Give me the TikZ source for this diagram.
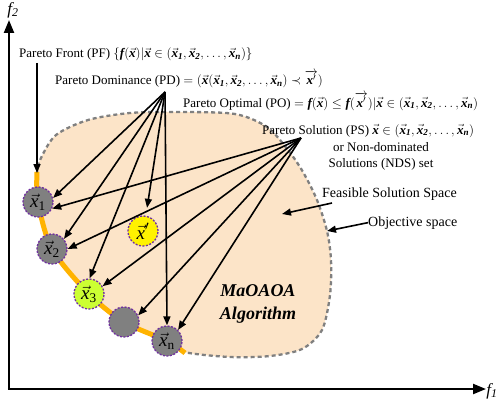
\RequirePackage{fix-cm}
\documentclass[tikz,border=0pt]{standalone}
\usepackage{amsmath}
\usepackage{fontspec}
\setmainfont{Liberation Serif}
\usetikzlibrary{arrows.meta}
\newcommand{\bix}{\text{\bfseries\itshape x}}
\newcommand{\bif}{\text{\bfseries\itshape f}}
\newcommand{\bvx}{\vec{\bix}}
\newcommand{\bvxs}[1]{\vec{\bix}_{\text{\bfseries\itshape #1}}}
\newcommand{\nx}[1]{\vec{\text{\itshape x}}_{\text{#1}}}
\definecolor{peach}{HTML}{FCE4C8}
\definecolor{bordergray}{HTML}{808080}
\definecolor{frontorange}{HTML}{FFB300}
\definecolor{ndgray}{HTML}{808080}
\definecolor{ndpurple}{HTML}{7030A0}
\definecolor{limey}{HTML}{CCFF33}
\begin{document}
\begin{tikzpicture}[x=1pt,y=-1pt,
  txt/.style={inner sep=0pt, font=\fontsize{13}{15}\selectfont},
  arr/.style={-{Triangle[length=9pt,width=7pt]}, line width=1.6pt},
  axis/.style={-{Triangle[length=13pt,width=10pt]}, line width=2.2pt},
  sol/.style={circle, minimum size=30pt, inner sep=0pt, fill=ndgray, draw=ndpurple,
     line width=1.3pt, dash pattern=on 2pt off 1.5pt, font=\fontsize{19}{19}\selectfont},
  blob/.style={fill=peach, draw=bordergray, line width=2.3pt, dash pattern=on 4pt off 3pt},
  front/.style={draw=frontorange, line width=5pt},
  algo/.style={inner sep=0pt, font=\fontsize{18}{22}\selectfont\bfseries\itshape}]
\useasboundingbox (0,0) rectangle (500,401);

% axes
\coordinate (O) at (9,389);
\coordinate (ytip) at (9,20);
\coordinate (xtip) at (486,389);
\draw[axis] (O) -- (ytip);
\draw[axis] ([xshift=-1.1pt]O) -- (xtip);
\node[inner sep=0pt, font=\fontsize{17}{17}\selectfont] (f2) at (13,10) {\itshape f\textsubscript{2}};
\node[inner sep=0pt, font=\fontsize{17}{17}\selectfont] (f1) at (492,391) {\itshape f\textsubscript{1}};

% feasible region
\draw[blob] plot[smooth cycle] coordinates {(37,173) (38,202) (52,249) (89,294) (124,322) (167,341) (184,352) (230,357) (270,356) (302,349) (322,330) (330,295) (331,260) (327,231) (317,200) (303,172) (288,150) (267,127) (235,114) (180,112) (130,113) (88,120) (56,135) (41,158)};
\draw[front] plot[smooth] coordinates {(37,172) (38,202) (52,249) (89,294) (124,322) (167,341) (185,353)};

% solutions
\node[sol] (x1) at (38,202) {$\nx{1}$};
\node[sol] (x2) at (52,249) {$\nx{2}$};
\node[sol, fill=limey] (x3) at (89,294) {$\nx{3}$};
\node[sol] (xb) at (124,322) {};
\node[sol] (xn) at (167,341) {$\nx{n}$};
\node[sol, fill=yellow] (xp) at (143,231) {$\vec{\text{\itshape x}}'$};

% texts
\node[txt, anchor=base west] (pf) at (19,58) {Pareto Front (PF) $\{\bif(\bvx)|\bvx\in(\bvxs{1},\bvxs{2},\dots,\bvxs{n})\}$};
\node[txt, anchor=base west] (pd) at (55,85) {Pareto Dominance (PD) $=(\bvx(\bvxs{1},\bvxs{2},\dots,\bvxs{n})\prec\overrightarrow{\bix'})$};
\node[txt, anchor=base west] (po) at (183,107) {Pareto Optimal (PO) $=\bif(\bvx)\leq\bif(\overrightarrow{\bix'})|\bvx\in(\bvxs{1},\bvxs{2},\dots,\bvxs{n})$};
\node[txt, anchor=base west] (ps) at (262,134) {Pareto Solution (PS) $\bvx\in(\bvxs{1},\bvxs{2},\dots,\bvxs{n})$};
\node[txt, anchor=base] (ps2) at (381,151) {or Non-dominated};
\node[txt, anchor=base] (ps3) at (381,167) {Solutions (NDS) set};
\node[txt, anchor=base west, font=\fontsize{14}{15}\selectfont] (fs) at (322,197) {Feasible Solution Space};
\node[txt, anchor=base west, font=\fontsize{14}{15}\selectfont] (obj) at (368,226) {Objective space};
\node[algo, anchor=base] (al1) at (258,296) {MaOAOA};
\node[algo, anchor=base] (al2) at (258,319) {Algorithm};

% connector points
\coordinate (pfS) at (37,63);
\coordinate (pfT) at (37,173);
\coordinate (pdS) at (165,92);
\coordinate (psS) at (301,138);
\coordinate (fsS) at (332,203);
\coordinate (fsT) at (282,214);
\coordinate (objT) at (327,231);

\draw[arr] (pfS) -- (pfT);
\draw[arr] (pdS) -- (x1.15);
\draw[arr] (pdS) -- (x2.40);
\draw[arr] (pdS) -- ([yshift=8pt]xp.75);
\draw[arr] (pdS) -- (x3.88);
\draw[arr] (pdS) -- (xn.north);
\draw[arr] (psS) -- (x1.-25);
\draw[arr] (psS) -- (x2.east);
\draw[arr] (psS) -- (x3.30);
\draw[arr] (psS) -- (xb.25);
\draw[arr] (psS) -- (xn.45);
\draw[arr] (fsS) -- (fsT);
\draw[arr] (obj.west) -- (objT);
\end{tikzpicture}
\end{document}
